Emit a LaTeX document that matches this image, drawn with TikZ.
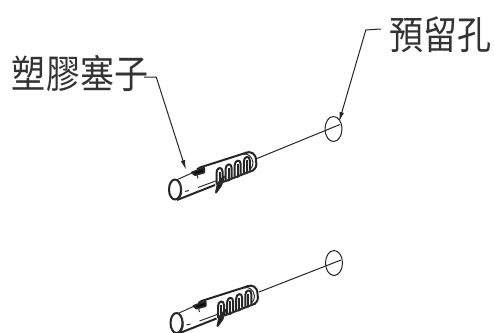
\documentclass[tikz,border=0pt]{standalone}
\usepackage{graphicx}
\usepackage{fontspec}
\newfontfamily\cjk{Noto Sans CJK TC}
\usetikzlibrary{arrows.meta}
\tikzset{
  label text/.style={font=\cjk\fontsize{34}{34}\selectfont,text=black!80,inner sep=0pt,anchor=center},
  leader/.style={line width=1pt,black!85,-{Latex[length=10pt,width=4.5pt]}},
  wire/.style={line width=1pt,black!85},
  thick outline/.style={line width=2pt,line join=round,black!85},
  thin outline/.style={line width=1pt,black!80},
  plug/.pic={
    % mouth
    \draw[thick outline] (0,0) ellipse [x radius=6,y radius=10];
    \draw[thin outline] (3,-8) .. controls (7,-5) and (8,3) .. (5,8);
    % upper edge and wing
    \draw[thin outline] (2,-9.8) -- (18,-17);
    \draw[thick outline] (22,-20) -- (25,-22) -- (72,-37);
    \draw[thick outline,fill=black] (17,-17) -- (29,-21.5) -- (29,-17) -- (20,-14.5) -- cycle;
    \draw[thin outline] (22,-15) -- (23,-11);
    % nose, doubled contour
    \draw[thick outline] (70,-36.5) .. controls (76,-39) and (81,-36) .. (81,-29) .. controls (82,-24) and (81,-21) .. (78,-19.5);
    \draw[thin outline] (67,-35) .. controls (73,-37) and (77,-33) .. (78,-27) .. controls (78,-24) and (77,-22) .. (75,-20);
    % lower edge
    \draw[thick outline] (2,10.5) -- (40,-4.5);
    \draw[thick outline] (48,-7.5) -- (79,-19.5);
    % inner line and small mark
    \draw[thin outline] (10,2) -- (14,1);
    \draw[thin outline] (23,-2) -- (42,-9);
    % middle wing
    \draw[thick outline,fill=black] (49,-13) -- (43,-6) -- (41,3) -- (46,-4) -- cycle;
    % slots
    \foreach \i in {0,1,2,3}{
      \begin{scope}[shift={({\i*9.1},{-\i*3.7})}]
        \draw[thick outline] (41.5,-5) -- (41.5,-17) .. controls (41.5,-22) and (47.5,-23.5) .. (47.5,-18) -- (47.5,-8);
        \draw[thick outline] (44.5,-6) -- (44.5,-18);
        \draw[thin outline] (41.5,-5) .. controls (43,-3.5) and (46,-5) .. (47.5,-8);
      \end{scope}
    }
  }
}
\begin{document}
\begin{tikzpicture}[x=1pt,y=-1pt]
\useasboundingbox (0,0) rectangle (494,332);
\fill[white] (0,0) rectangle (494,332);

% upper fixture
\pic at (175,189.5) {plug};
\coordinate (wireA1) at (257,158.5);
\coordinate (wireA2) at (340,124.5);
\draw[wire] (wireA1) -- (wireA2);
\draw[wire] (333.5,129) ellipse [x radius=8.5,y radius=12.5];

% lower fixture
\pic at (176.5,323) {plug};
\coordinate (wireB1) at (259,292);
\coordinate (wireB2) at (341,260);
\draw[wire] (wireB1) -- (wireB2);
\draw[wire] (334,263) ellipse [x radius=8.5,y radius=12.5];

% labels
\node[label text] (lblPlug) at (80,73.5) {\scalebox{1}[1.15]{塑膠塞子}};
\node[label text] (lblHole) at (440,35) {\scalebox{1}[1.15]{預留孔}};

% leaders
\coordinate (plugTip) at (186,170);
\coordinate (holeTip) at (339,122);
\draw[leader] (lblPlug.east) ++(-4,3.5) -- ++(12,0) -- (plugTip);
\draw[leader] (lblHole.west) ++(-8,-6) -- ++(-15,1) -- (holeTip);
\end{tikzpicture}
\end{document}
